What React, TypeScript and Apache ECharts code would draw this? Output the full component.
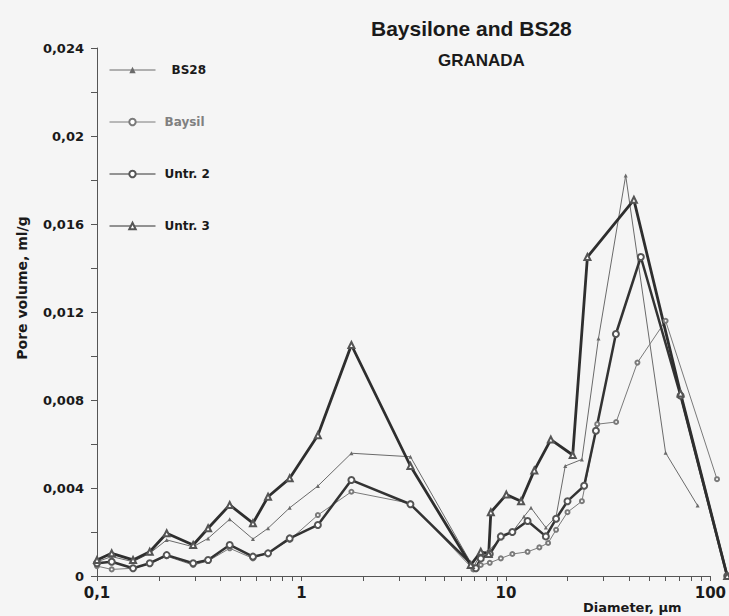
import React, { useEffect, useRef } from "react";
import * as echarts from "echarts";

// ---- data ----
const leftDiameters = [0.1, 0.118, 0.15, 0.181, 0.219, 0.295, 0.349, 0.445, 0.578, 0.685, 0.874, 1.2, 1.75, 3.4];

const bs28X = [...leftDiameters, 6.9, 7.5, 8.3, 9.4, 10.7, 12.2, 13.2, 15.6, 17.5, 19.4, 23.4, 28.2, 38.3, 60, 86];
const bs28Y = [0.00065, 0.00088, 0.00065, 0.00103, 0.00164, 0.00133, 0.00171, 0.00258, 0.00168, 0.00217, 0.0031, 0.00409, 0.00558, 0.00542,
  0.0004, 0.001, 0.0012, 0.0017, 0.002, 0.0027, 0.0031, 0.0022, 0.0027, 0.005, 0.0053, 0.0108, 0.0182, 0.0056, 0.0032];

const baysilX = [...leftDiameters, 6.9, 7.5, 8.3, 9.4, 10.7, 12.7, 14.5, 16, 17.5, 19.9, 23.4, 27.8, 34.4, 43.7, 60, 107];
const baysilY = [0.00045, 0.0003, 0.00035, 0.00055, 0.0009, 0.0005, 0.00068, 0.00126, 0.0008, 0.00106, 0.00164, 0.00277, 0.00383, 0.0033,
  0.0003, 0.0005, 0.0006, 0.0008, 0.001, 0.0011, 0.0013, 0.0015, 0.0021, 0.0029, 0.0034, 0.0069, 0.007, 0.0097, 0.0116, 0.0044];

const untr2X = [...leftDiameters, 7.1, 7.5, 8.3, 9.4, 10.7, 12.7, 15.6, 17.5, 19.9, 24, 27.4, 34.3, 45.4, 71, 120];
const untr2Y = [0.00058, 0.00065, 0.00035, 0.00058, 0.00095, 0.00058, 0.00073, 0.00141, 0.00088, 0.00103, 0.00171, 0.00232, 0.00436, 0.00326,
  0.00035, 0.0008, 0.001, 0.0018, 0.002, 0.0025, 0.0018, 0.0026, 0.0034, 0.0041, 0.0066, 0.011, 0.0145, 0.0082, 0];

const untr3X = [...leftDiameters, 6.7, 7.5, 8.2, 8.4, 10, 11.8, 13.7, 16.5, 21.1, 24.9, 42, 71, 120];
const untr3Y = [0.00073, 0.00103, 0.00073, 0.0011, 0.00194, 0.00141, 0.00217, 0.00323, 0.0024, 0.0036, 0.00444, 0.0064, 0.0105, 0.005,
  0.0005, 0.0011, 0.001, 0.0029, 0.0037, 0.0034, 0.0048, 0.0062, 0.0055, 0.0145, 0.0171, 0.0083, 0];

const xTickValues = [0.1, 0.2, 0.3, 0.4, 0.5, 0.6, 0.7, 0.8, 0.9, 1, 2, 3, 4, 5, 6, 7, 8, 9, 10, 20, 30, 40, 50, 60, 70, 80, 90, 100];
const xLabelValues = [0.1, 1, 10, 100];
const yTickValues = [0, 0.002, 0.004, 0.006, 0.008, 0.01, 0.012, 0.014, 0.016, 0.018, 0.02, 0.022, 0.024];

// log10 transform: the x axis is a value axis over log10(diameter)
const lg = (v: number) => Math.log10(v);
const zip = (xs: number[], ys: number[]) => xs.map((x, i) => [lg(x), ys[i]]);

const AXIS = "#555555";
const LABEL_FONT = "DejaVu Sans";

// layout
const W = 729;
const H = 616;
const GRID_LEFT = 97;
const GRID_RIGHT = 18;
const GRID_TOP = 48;
const GRID_BOTTOM = 40;
const X_MIN = lg(0.1);
const X_MAX = lg(100);
const Y_MIN = 0;
const Y_MAX = 0.024;
const PLOT_W = W - GRID_LEFT - GRID_RIGHT;
// hidden grid 1: extends to the right page edge with the same scale so lines can run past 100
const X_MAX_EXT = X_MIN + (X_MAX - X_MIN) * ((W - GRID_LEFT) / PLOT_W);

const textGraphics = [
  {
    type: "text",
    x: 22,
    y: 288,
    rotation: Math.PI / 2,
    style: {
      text: "Pore volume, ml/g",
      font: `bold 14px "${LABEL_FONT}"`,
      fill: "#1a1a1a",
      textAlign: "center",
      textVerticalAlign: "middle",
      align: "center",
      verticalAlign: "middle",
    },
  },
  {
    type: "text",
    x: 583,
    y: 607,
    style: {
      text: "Diameter, \u00b5m",
      font: `bold 13px "${LABEL_FONT}"`,
      fill: "#1a1a1a",
      textVerticalAlign: "middle",
      verticalAlign: "middle",
    },
  },
];

export default function App() {
  const ref = useRef<HTMLDivElement>(null);
  useEffect(() => {
    if (!ref.current) return;
    const chart = echarts.init(ref.current, undefined, { renderer: "svg" });
    const lineCommon = { type: "line", xAxisIndex: 1, yAxisIndex: 1, clip: false };
    chart.setOption({
      animation: false,
      backgroundColor: "#f5f5f5",
      title: [
        {
          text: "Baysilone and BS28",
          left: 366,
          top: 13,
          textStyle: { fontFamily: "Liberation Sans", fontWeight: "bold", fontSize: 21, color: "#1a1a1a" },
        },
        {
          text: "GRANADA",
          left: 433,
          top: 47,
          textStyle: { fontFamily: "Liberation Sans", fontWeight: "bold", fontSize: 17, color: "#1a1a1a" },
        },
      ],
      legend: {
        orient: "vertical",
        left: 104,
        top: 59,
        itemGap: 40,
        itemWidth: 46,
        itemHeight: 8,
        lineStyle: { width: 1 },
        textStyle: { fontFamily: LABEL_FONT, fontWeight: "bold", fontSize: 12, color: "#1a1a1a", padding: [0, 0, 0, 4] },
        data: [
          { name: "BS28", textStyle: { padding: [0, 0, 0, 11] } },
          { name: "Baysil", textStyle: { color: "#808080" } },
          { name: "Untr. 2" },
          { name: "Untr. 3" },
        ],
      },
      grid: [
        { left: GRID_LEFT, right: GRID_RIGHT, top: GRID_TOP, bottom: GRID_BOTTOM, containLabel: false },
        { left: GRID_LEFT, right: 0, top: GRID_TOP, bottom: GRID_BOTTOM, containLabel: false },
      ],
      xAxis: [
        {
          type: "value",
          gridIndex: 0,
          min: X_MIN,
          max: X_MAX,
          axisLine: { show: true, onZero: false, lineStyle: { color: AXIS, width: 1 } },
          axisTick: { show: false },
          minorTick: { show: false },
          splitLine: { show: false },
          axisLabel: {
            customValues: xLabelValues.map(lg),
            margin: 9,
            fontFamily: LABEL_FONT,
            fontWeight: "bold",
            fontSize: 15,
            color: "#1a1a1a",
            formatter: (v: number) => String(parseFloat(Math.pow(10, v).toPrecision(3))).replace(".", ","),
          },
        },
        { type: "value", gridIndex: 1, min: X_MIN, max: X_MAX_EXT, show: false },
      ],
      yAxis: [
        {
          type: "value",
          gridIndex: 0,
          min: Y_MIN,
          max: Y_MAX,
          interval: 0.004,
          axisLine: { show: true, onZero: false, lineStyle: { color: AXIS, width: 1 } },
          axisTick: { show: false },
          minorTick: { show: false },
          splitLine: { show: false },
          axisLabel: {
            margin: 13,
            fontFamily: LABEL_FONT,
            fontWeight: "bold",
            fontSize: 13,
            color: "#1a1a1a",
            formatter: (v: number) => (v === 0 ? "0" : String(parseFloat(v.toFixed(4))).replace(".", ",")),
          },
        },
        { type: "value", gridIndex: 1, min: Y_MIN, max: Y_MAX, show: false, splitLine: { show: false } },
      ],
      graphic: textGraphics,
      series: [
        {
          ...lineCommon,
          name: "BS28",
          data: zip(bs28X, bs28Y),
          symbol: "triangle",
          symbolSize: 4,
          lineStyle: { width: 1, color: "#6a6a6a" },
          itemStyle: { color: "#6a6a6a" },
        },
        {
          ...lineCommon,
          name: "Baysil",
          data: zip(baysilX, baysilY),
          symbol: "emptyCircle",
          symbolSize: 4,
          lineStyle: { width: 1, color: "#7a7a7a" },
          itemStyle: { color: "#7a7a7a" },
        },
        {
          ...lineCommon,
          name: "Untr. 2",
          data: zip(untr2X, untr2Y),
          symbol: "emptyCircle",
          symbolSize: 6,
          lineStyle: { width: 2.5, color: "#333333" },
          itemStyle: { color: "#555555" },
        },
        {
          ...lineCommon,
          name: "Untr. 3",
          data: zip(untr3X, untr3Y),
          symbol: "emptyTriangle",
          symbolSize: 6,
          lineStyle: { width: 2.8, color: "#2e2e2e" },
          itemStyle: { color: "#555555" },
        },
      ],
    });

    // tick marks: positions come from the axes' own scales via convertToPixel
    const finder = { xAxisIndex: 0, yAxisIndex: 0 };
    const tickGraphics: any[] = [];
    xTickValues.forEach((v) => {
      const p = chart.convertToPixel(finder as any, [lg(v), Y_MIN]) as number[];
      if (p && isFinite(p[0]) && isFinite(p[1])) {
        const x = Math.round(p[0]) + 0.5;
        tickGraphics.push({
          type: "line",
          silent: true,
          z: 100,
          shape: { x1: x, y1: p[1], x2: x, y2: p[1] + 5 },
          style: { stroke: AXIS, lineWidth: 1 },
        });
      }
    });
    yTickValues.forEach((v) => {
      const p = chart.convertToPixel(finder as any, [X_MIN, v]) as number[];
      if (p && isFinite(p[0]) && isFinite(p[1])) {
        const y = Math.round(p[1]) + 0.5;
        tickGraphics.push({
          type: "line",
          silent: true,
          z: 100,
          shape: { x1: p[0] - 6, y1: y, x2: p[0], y2: y },
          style: { stroke: AXIS, lineWidth: 1 },
        });
      }
    });
    chart.setOption({ graphic: [...textGraphics, ...tickGraphics] });

    return () => chart.dispose();
  }, []);
  return <div ref={ref} style={{ position: "absolute", left: 0, top: 0, width: W, height: H }} />;
}
